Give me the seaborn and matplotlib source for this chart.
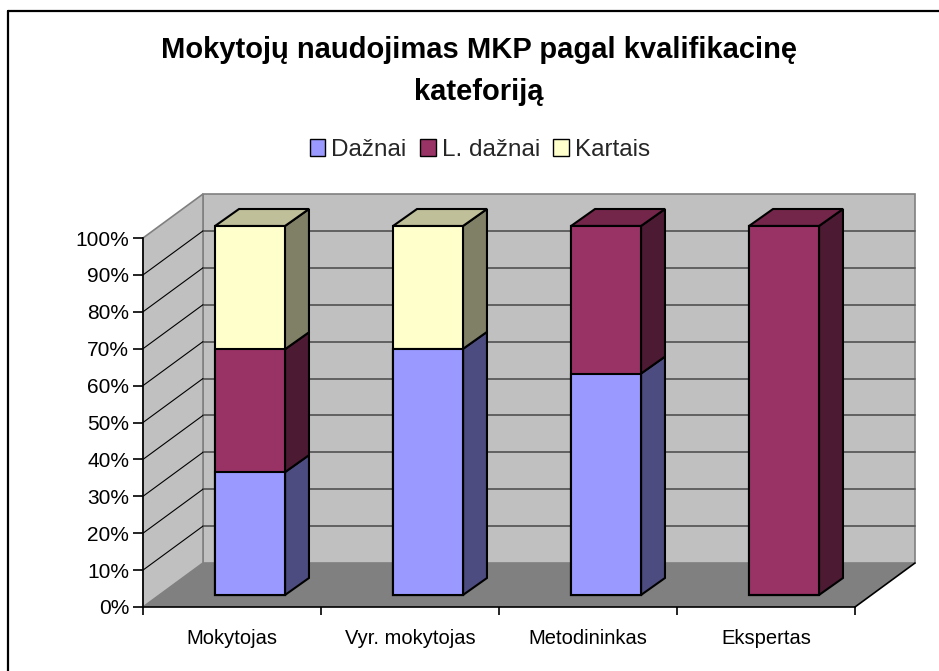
import numpy as np
import pandas as pd
import matplotlib
matplotlib.use("Agg")
import matplotlib.pyplot as plt
import seaborn as sns
from matplotlib.patches import Polygon, Patch
from matplotlib.transforms import offset_copy, IdentityTransform
from matplotlib.lines import Line2D

# ---------------- data ----------------
categories = ["Mokytojas", "Vyr. mokytojas", "Metodininkas", "Ekspertas"]
series = ["Dažnai", "L. dažnai", "Kartais"]
daznai = [33.3, 66.7, 60.0, 0.0]
l_daznai = [33.3, 0.0, 40.0, 100.0]
kartais = [33.4, 33.3, 0.0, 0.0]
y_ticks = [0, 10, 20, 30, 40, 50, 60, 70, 80, 90, 100]
y_tick_labels = ["0%", "10%", "20%", "30%", "40%", "50%", "60%", "70%", "80%", "90%", "100%"]
title_lines = ["Mokytojų naudojimas MKP pagal kvalifikacinę", "kateforiją"]

front_colors = ["#9999FF", "#993366", "#FFFFCC"]
side_colors = ["#4C4C80", "#4D1A33", "#808066"]
top_colors = ["#7373BF", "#732649", "#BFBF99"]

# ---------------- figure ----------------
W, H, DPI = 939, 671, 100
sns.set_theme(style="white")
plt.rcParams["font.family"] = ["Liberation Sans", "DejaVu Sans"]

fig = plt.figure(figsize=(W / DPI, H / DPI), dpi=DPI)
fig.patch.set_facecolor("white")
ax_l, ax_r, ax_t, ax_b = 143, 855, 238, 607
ax = fig.add_axes([ax_l / W, 1 - ax_b / H, (ax_r - ax_l) / W, (ax_b - ax_t) / H])
ax.patch.set_alpha(0)

values = np.array([daznai, l_daznai, kartais])
cum = np.cumsum(values, axis=0)
rows = []
for s_idx in range(len(series) - 1, -1, -1):
    for c_idx, cat in enumerate(categories):
        rows.append({"category": cat, "series": series[s_idx], "cum": cum[s_idx, c_idx]})
df = pd.DataFrame(rows)
hue_order = series[::-1]

bar_width = 0.393
sns.barplot(data=df, x="category", y="cum", hue="series", hue_order=hue_order,
            order=categories, dodge=False, width=bar_width,
            palette=dict(zip(series, front_colors)), saturation=1,
            edgecolor="black", linewidth=1.5, errorbar=None, legend=False, ax=ax)
ax.set_autoscale_on(False)
ax.set_xlim(-0.5, len(categories) - 0.5)
ax.set_ylim(0, 100)

# bars sit in the middle depth of the 3D box
BAR_DX, BAR_DY = 18, 12
DEP_DX, DEP_DY = 24, 17
BACK_DX, BACK_DY = 60, 44
t_bar = offset_copy(ax.transData, fig=fig, x=BAR_DX, y=BAR_DY, units="dots")
bar_patches = list(ax.patches)
for p in bar_patches:
    p.set_transform(t_bar)
    p.set_clip_on(False)
    p.set_zorder(5)


def front(x, y):
    return ax.transData.transform((x, y))


def back(x, y):
    return ax.transData.transform((x, y)) + np.array([BACK_DX, BACK_DY])


def add_poly(pts, z, **kw):
    poly = Polygon(np.array(pts), closed=True, transform=IdentityTransform(),
                   clip_on=False, zorder=z, **kw)
    ax.add_artist(poly)


def add_line(p0, p1, z, **kw):
    ln = Line2D([p0[0], p1[0]], [p0[1], p1[1]], transform=IdentityTransform(),
                clip_on=False, zorder=z, **kw)
    ax.add_artist(ln)


x_lo, x_hi = -0.5, len(categories) - 0.5
y_lo, y_hi = y_ticks[0], y_ticks[-1]
# back wall
add_poly([back(x_lo, y_lo), back(x_hi, y_lo), back(x_hi, y_hi), back(x_lo, y_hi)], 0.3,
         facecolor="#C0C0C0", edgecolor="#808080", linewidth=1.2)
# left wall
add_poly([front(x_lo, y_lo), front(x_lo, y_hi), back(x_lo, y_hi), back(x_lo, y_lo)], 0.4,
         facecolor="#C0C0C0", edgecolor="#808080", linewidth=1.2)
# floor
add_poly([front(x_lo, y_lo), front(x_hi, y_lo), back(x_hi, y_lo), back(x_lo, y_lo)], 0.5,
         facecolor="#808080", edgecolor="none")
add_line(front(x_hi, y_lo), back(x_hi, y_lo), 0.6, color="black", linewidth=1.2)
# gridlines
for v in y_ticks[1:-1]:
    add_line(back(x_lo, v), back(x_hi, v), 0.6, color="#5A5A5A", linewidth=1.3)
    add_line(front(x_lo, v), back(x_lo, v), 0.6, color="black", linewidth=0.8)

# 3D side/top faces of bars
def bar_disp(x, y, dx=0, dy=0):
    return t_bar.transform((x, y)) + np.array([dx, dy])

seen = {}
for p in bar_patches:
    c_idx = int(round(p.get_x() + p.get_width() / 2))
    seen[c_idx] = (p.get_x(), p.get_x() + p.get_width())

for c_idx, (x0, x1) in seen.items():
    bottom = 0.0
    top_series = None
    for s_idx in range(len(series)):
        h = values[s_idx, c_idx]
        if h <= 0:
            continue
        t = bottom + h
        add_poly([bar_disp(x1, bottom), bar_disp(x1, t),
                  bar_disp(x1, t, DEP_DX, DEP_DY), bar_disp(x1, bottom, DEP_DX, DEP_DY)], 4.8,
                 facecolor=side_colors[s_idx], edgecolor="black", linewidth=1.5)
        bottom = t
        top_series = s_idx
    if top_series is not None:
        add_poly([bar_disp(x0, bottom), bar_disp(x1, bottom),
                  bar_disp(x1, bottom, DEP_DX, DEP_DY), bar_disp(x0, bottom, DEP_DX, DEP_DY)], 4.9,
                 facecolor=top_colors[top_series], edgecolor="black", linewidth=1.5)

# axes styling
for side in ["top", "right"]:
    ax.spines[side].set_visible(False)
for side in ["left", "bottom"]:
    ax.spines[side].set_color("black")
    ax.spines[side].set_linewidth(1.2)
ax.set_yticks(y_ticks)
ax.set_yticklabels(y_tick_labels)
ax.set_xticks(range(len(categories)))
ax.set_xticklabels(categories)
ax.set_xticks(np.arange(x_lo, x_hi + 0.01, 1.0), minor=True)
ax.tick_params(axis="y", left=True, length=7, width=1.2, color="black", direction="out",
               labelsize=15, labelcolor="black", pad=3)
ax.tick_params(axis="x", which="major", bottom=True, length=0, labelsize=14.5,
               labelcolor="black", pad=16)
ax.tick_params(axis="x", which="minor", bottom=True, length=6, width=1.2, color="black",
               direction="out")
ax.set_xlabel("")
ax.set_ylabel("")

# title
fig.text(479 / W, 1 - 58 / H, title_lines[0], ha="center", va="baseline",
         fontsize=21, fontweight="bold", color="black")
fig.text(479 / W, 1 - 100 / H, title_lines[1], ha="center", va="baseline",
         fontsize=21, fontweight="bold", color="black")

# legend
handles = [Patch(facecolor=c, edgecolor="black", linewidth=1) for c in front_colors]
fig.legend(handles, series, loc="center", bbox_to_anchor=(480 / W, 1 - 150 / H), ncol=3,
           frameon=False, fontsize=17.5, handlelength=0.65, handleheight=0.65,
           handletextpad=0.25, columnspacing=0.55, borderpad=0, borderaxespad=0)

# outer border (top and left edges visible)
fig.add_artist(Line2D([8 / W, 1], [1 - 11 / H, 1 - 11 / H], color="black", linewidth=1.6,
                      transform=fig.transFigure))
fig.add_artist(Line2D([8 / W, 8 / W], [1 - 11 / H, 0], color="black", linewidth=1.6,
                      transform=fig.transFigure))

fig.savefig("out.png", dpi=DPI)
